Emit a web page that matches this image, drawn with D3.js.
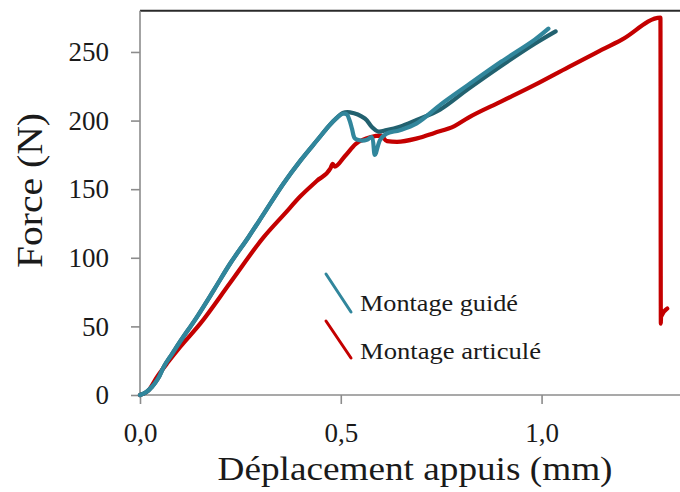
<!DOCTYPE html>
<html>
<head>
<meta charset="utf-8">
<script src="https://cdn.jsdelivr.net/npm/d3@7"></script>
<style>
  html, body { margin: 0; padding: 0; background: #fff; }
  svg { display: block; }
  text { font-family: "Liberation Serif", Tinos, "Times New Roman", Times, serif; fill: #1a1a1a; }
</style>
</head>
<body>
<svg id="chart" width="680" height="492"></svg>
<script>
// Force (N) versus support displacement (mm), three load curves
const xTicks = [0, 0.5, 1.0];
const xTickLabels = ["0,0", "0,5", "1,0"];
const yTicks = [0, 50, 100, 150, 200, 250];

// Montage guidé — first test (light teal)
const guideA = [
  [0, 0], [0.015, 2], [0.03, 6], [0.045, 12], [0.06, 21], [0.08, 30], [0.1, 39],
  [0.142, 57], [0.185, 77], [0.225, 96], [0.27, 115], [0.308, 132], [0.357, 154],
  [0.4, 171], [0.442, 186], [0.47, 196], [0.49, 202], [0.505, 205], [0.515, 204.5],
  [0.522, 200], [0.528, 194], [0.535, 187], [0.55, 185.5], [0.565, 186], [0.577, 188],
  [0.585, 175], [0.598, 186], [0.614, 190.5], [0.647, 193], [0.689, 198],
  [0.75, 212], [0.817, 226], [0.9, 243], [0.983, 259], [1.017, 267]
];

// Montage guidé — second test (dark teal)
const guideB = [
  [0, 0], [0.015, 2], [0.03, 6], [0.045, 12], [0.06, 21], [0.08, 30], [0.1, 39],
  [0.142, 57], [0.185, 77], [0.225, 96], [0.27, 115], [0.308, 132], [0.357, 154],
  [0.4, 171], [0.442, 186], [0.47, 196], [0.49, 202], [0.505, 205.5], [0.523, 206],
  [0.56, 201.5], [0.577, 195.5], [0.593, 192], [0.614, 193], [0.647, 195.5],
  [0.689, 200.5], [0.747, 208], [0.817, 223], [0.9, 240], [0.983, 256], [1.035, 265]
];

// Montage articulé (red)
const articule = [
  [0, 0], [0.02, 3], [0.042, 13], [0.07, 24], [0.1, 35], [0.15, 52], [0.225, 82],
  [0.308, 115], [0.36, 132], [0.4, 145], [0.44, 156], [0.474, 165], [0.48, 168.5],
  [0.485, 166.5], [0.51, 174], [0.5375, 183], [0.575, 188], [0.6, 189], [0.615, 185],
  [0.64, 184.5], [0.69, 187], [0.733, 191], [0.783, 196], [0.817, 202], [0.9, 214],
  [0.983, 226], [1.067, 239], [1.133, 249], [1.2, 259], [1.296, 275], [1.297, 52],
  [1.2975, 57], [1.313, 63]
];

const seriesNames = ["Montage guidé", "Montage articulé"];
const colors = { guideA: "#31869c", guideB: "#22616f", articule: "#c40000" };
const fontStack = '"Liberation Serif", Tinos, "Times New Roman", Times, serif';

const svg = d3.select("#chart");

const x = d3.scaleLinear().domain([0, 1.4]).range([140, 702.2]);
const y = d3.scaleLinear().domain([0, 280]).range([395, 10.8]);

// top frame line
svg.append("line")
  .attr("x1", x(0)).attr("x2", 680)
  .attr("y1", y(280)).attr("y2", y(280))
  .attr("stroke", "#2a2a2a").attr("stroke-width", 2);

// axes
const yAxis = d3.axisLeft(y).tickValues(yTicks).tickSize(9).tickSizeOuter(0).tickPadding(22)
  .tickFormat(d3.format("d"));
const gy = svg.append("g").attr("transform", `translate(${x(0)},0)`).call(yAxis);

const xAxis = d3.axisBottom(x).tickValues(xTicks).tickSize(9).tickSizeOuter(0).tickPadding(19)
  .tickFormat((d, i) => xTickLabels[i]);
const gx = svg.append("g").attr("transform", `translate(0,${y(0)})`).call(xAxis);

[gx, gy].forEach(g => {
  g.attr("font-family", null).attr("font-size", null);
  g.select(".domain").attr("stroke", "#8c8c8c").attr("stroke-width", 1.6);
  g.selectAll(".tick line").attr("stroke", "#8c8c8c").attr("stroke-width", 1.6);
  g.selectAll(".tick text")
    .attr("fill", "#1a1a1a")
    .style("font-family", fontStack)
    .style("font-size", "27px");
});
gy.select(".domain").attr("d", `M0,${y(0)}V${y(280)}`);
gx.select(".domain").attr("d", `M${x(0)},0H680`);

// curves
const smooth = d3.line()
  .x(d => x(d[0])).y(d => y(d[1]))
  .curve(d3.curveCatmullRom.alpha(0.5));
const monotone = d3.line()
  .x(d => x(d[0])).y(d => y(d[1]))
  .curve(d3.curveMonotoneX);

const drawSeries = (data, color, gen) => svg.append("path")
  .datum(data)
  .attr("d", gen)
  .attr("fill", "none")
  .attr("stroke", color)
  .attr("stroke-width", 4.2)
  .attr("stroke-linejoin", "round")
  .attr("stroke-linecap", "round");

drawSeries(articule, colors.articule, monotone);
drawSeries(guideB, colors.guideB, smooth);
drawSeries(guideA, colors.guideA, smooth);

// legend
const legend = [
  { name: seriesNames[0], color: colors.guideA, y0: 274, y1: 312, tx: 311, len: 158 },
  { name: seriesNames[1], color: colors.articule, y0: 321, y1: 358, tx: 359, len: 181 }
];
legend.forEach(l => {
  svg.append("line")
    .attr("x1", 326).attr("y1", l.y0).attr("x2", 351).attr("y2", l.y1)
    .attr("stroke", l.color).attr("stroke-width", 3).attr("stroke-linecap", "round");
  svg.append("text")
    .attr("x", 360).attr("y", l.tx)
    .attr("textLength", l.len).attr("lengthAdjust", "spacingAndGlyphs")
    .style("font-family", fontStack)
    .style("font-size", "24px")
    .text(l.name);
});

// axis titles
svg.append("text")
  .attr("x", 415).attr("y", 480)
  .attr("text-anchor", "middle")
  .attr("textLength", 395).attr("lengthAdjust", "spacingAndGlyphs")
  .style("font-family", fontStack)
  .style("font-size", "33px")
  .text("Déplacement appuis (mm)");

svg.append("text")
  .attr("transform", "translate(42,190.5) rotate(-90)")
  .attr("text-anchor", "middle")
  .attr("textLength", 155).attr("lengthAdjust", "spacingAndGlyphs")
  .style("font-family", fontStack)
  .style("font-size", "36px")
  .text("Force (N)");
</script>
</body>
</html>
